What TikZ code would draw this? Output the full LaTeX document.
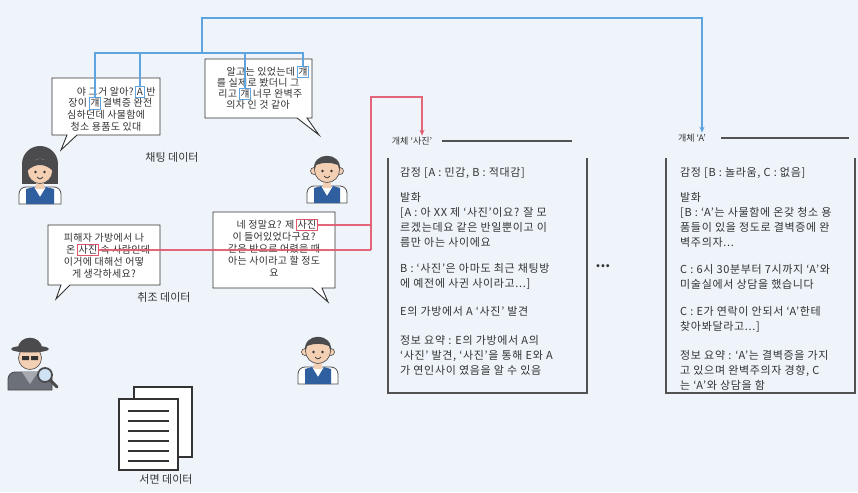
\documentclass[tikz,border=0pt]{standalone}
\usepackage{fontspec}
\setmainfont{Noto Sans CJK KR}
\usetikzlibrary{arrows.meta,positioning}
\definecolor{paper}{HTML}{EEF4FA}
\definecolor{ink}{HTML}{333333}
\definecolor{linkblue}{HTML}{5FA3DF}
\definecolor{linkred}{HTML}{E2566B}
\definecolor{skin}{HTML}{F3CFB3}
\definecolor{hair}{HTML}{4B4B4D}
\definecolor{vest}{HTML}{2F5F9F}
\definecolor{coat}{HTML}{6B7079}
\tikzset{bubble/.style={draw=ink,line width=.9pt,fill=white},
say/.style={inner sep=0pt,text=ink,font=\fontsize{10}{11}\selectfont\addfontfeature{LetterSpace=3}},
hlblue/.style={draw=linkblue,line width=.9pt,inner sep=1.2pt,text height=7.8pt,text depth=1pt,text=ink,font=\fontsize{10}{11}\selectfont\addfontfeature{LetterSpace=3}},
hlred/.style={hlblue,draw=linkred},
tag/.style={inner sep=0pt,text=ink,font=\fontsize{11}{12}\selectfont},
head/.style={inner sep=1pt,text=ink,font=\fontsize{9}{10}\selectfont},
info/.style={anchor=base west,inner sep=0pt,text=ink,font=\fontsize{11}{13}\selectfont\addfontfeature{LetterSpace=6}},
rule/.style={draw=ink!85,line width=1.1pt},
blink/.style={linkblue,line width=1.6pt},
rlink/.style={linkred,line width=1.6pt,opacity=.9},
tip/.style={-{Stealth[length=6pt,width=5pt]}}}

\begin{document}
\begin{tikzpicture}[x=1pt,y=-1pt]
\path[use as bounding box,fill=paper] (0,0) rectangle (858,492);

% chat bubbles
\draw[bubble] (52,78) -- (160,78) -- (160,135) -- (77,135) -- (61,150) -- (67,135) -- (52,135) -- cycle;
\node[hlblue] (hA1) at (140,92) {A};
\node[say,anchor=base east] (b1a) at ([xshift=-1.5pt]hA1.base west) {야 그거 알아?};
\node[say,anchor=base west] (b1b) at ([xshift=1.5pt]hA1.base east) {반};
\node[hlblue] (hA2) at (95,103.5) {걔};
\node[say,anchor=base east] (b1c) at ([xshift=-1.5pt]hA2.base west) {장이};
\node[say,anchor=base west] (b1d) at ([xshift=1.5pt]hA2.base east) {결벽증 완전};
\node[say,anchor=base] (b1e) at (106,118.5) {심하던데 사물함에};
\node[say,anchor=base] (b1f) at (106,130) {청소 용품도 있대};

\draw[bubble] (205,59) -- (312,59) -- (312,118) -- (307,118) -- (319,135) -- (297,118) -- (205,118) -- cycle;
\node[hlblue] (hA3) at (303,72) {걔};
\node[say,anchor=base east] (b2a) at ([xshift=-1.5pt]hA3.base west) {알고는 있었는데};
\node[say,anchor=base] (b2b) at (258,86.5) {를 실제로 봤더니 그};
\node[hlblue] (hA4) at (245,94) {걔};
\node[say,anchor=base east] (b2c) at ([xshift=-1.5pt]hA4.base west) {리고};
\node[say,anchor=base west] (b2d) at ([xshift=1.5pt]hA4.base east) {너무 완벽주};
\node[say,anchor=base] (b2e) at (258,108.5) {의자 인 것 같아};

\node[tag] (chat) at (172,157) {채팅 데이터};

% interview bubbles
\draw[bubble] (48,225) -- (160,225) -- (160,285) -- (70,285) -- (56,299) -- (61,285) -- (48,285) -- cycle;
\node[say,anchor=base] (b3a) at (104,241.5) {피해자 가방에서 나};
\node[hlred] (hS3) at (88,250) {사진};
\node[say,anchor=base east] (b3b) at ([xshift=-1.5pt]hS3.base west) {온};
\node[say,anchor=base west] (b3c) at ([xshift=1.5pt]hS3.base east) {속 사람인데};
\node[say,anchor=base] (b3d) at (104,265.5) {이거에 대해선 어떻};
\node[say,anchor=base] (b3e) at (104,277) {게 생각하세요?};

\draw[bubble] (213,212) -- (335,212) -- (335,288) -- (322,288) -- (328,302) -- (312,288) -- (213,288) -- cycle;
\node[hlred] (hS4) at (307,225) {사진};
\node[say,anchor=base east] (b4a) at ([xshift=-1.5pt]hS4.base west) {네 정말요? 제};
\node[say,anchor=base] (b4b) at (274,240.5) {이 들어있었다구요?};
\node[say,anchor=base] (b4c) at (274,252) {같은 반으로 어렸을 때};
\node[say,anchor=base] (b4d) at (274,264) {아는 사이라고 할 정도};
\node[say,anchor=base] (b4e) at (274,276) {요};

\node[tag] (quiz) at (164,297) {취조 데이터};

% girl (chat)
\begin{scope}[shift={(40,170)}]
\fill[hair] (0,-6) circle[radius=18];
\fill[hair] (-18,-6) rectangle (18,14);
\filldraw[fill=white,draw=hair,line width=.8pt] (-21,34) {[rounded corners=7pt] -- (-21,17) -- (21,17)} -- (21,34) -- cycle;
\fill[vest] (-14,34) -- (-14,19) -- (-6,17) -- (0,27) -- (6,17) -- (14,19) -- (14,34) -- cycle;
\fill[skin] (-4,11) rectangle (4,19);
\filldraw[fill=skin,draw=hair,line width=.6pt] (0,1) circle[radius=12.5];
\fill[hair] (-13,1) .. controls (-13,-15) and (13,-15) .. (13,1) .. controls (6,-6) and (-4,-8) .. (-13,1);
\fill[ink] (-4.5,2) circle[radius=1.3] (4.5,2) circle[radius=1.3];
\draw[ink,line width=.7pt] (-3,7) .. controls (0,9.5) .. (3,7);
\end{scope}

% boy (chat)
\begin{scope}[shift={(327,169)}]
\filldraw[fill=white,draw=hair,line width=.8pt] (-20,34) {[rounded corners=7pt] -- (-20,17) -- (20,17)} -- (20,34) -- cycle;
\fill[vest] (-13,34) -- (-13,19) -- (-6,17) -- (0,27) -- (6,17) -- (13,19) -- (13,34) -- cycle;
\fill[skin] (-4,11) rectangle (4,19);
\filldraw[fill=skin,draw=hair,line width=.6pt] (-13,2) circle[radius=3.5] (13,2) circle[radius=3.5];
\filldraw[fill=skin,draw=hair,line width=.6pt] (0,1) circle[radius=12.5];
\fill[hair] (-13,1) .. controls (-15,-18) and (15,-18) .. (13,1) -- (11,-4) .. controls (4,-7) and (-4,-7) .. (-11,-4) -- cycle;
\fill[ink] (-4.5,2) circle[radius=1.3] (4.5,2) circle[radius=1.3];
\draw[ink,line width=.7pt] (-3,7) .. controls (0,9.5) .. (3,7);
\end{scope}

% detective
\begin{scope}[shift={(30,356)}]
\filldraw[fill=coat,draw=hair,line width=.8pt] (-22,34) {[rounded corners=7pt] -- (-22,16) -- (22,16)} -- (22,34) -- cycle;
\fill[coat!60] (-8,16) -- (0,28) -- (8,16) -- cycle;
\filldraw[fill=skin,draw=hair,line width=.6pt] (0,2) circle[radius=11.5];
\fill[hair] (0,-7) ellipse[x radius=19,y radius=3.5];
\fill[hair] (-12,-7) .. controls (-12,-22) and (12,-22) .. (12,-7) -- cycle;
\fill[ink] (-8,0) rectangle (-1,4) (1,0) rectangle (8,4);
\draw[hair,line width=3pt,line cap=round] (20,24) -- (27,31);
\filldraw[fill=linkblue!30,draw=hair,line width=1.8pt] (15,19) circle[radius=7];
\end{scope}

% boy (interview)
\begin{scope}[shift={(318,350)}]
\filldraw[fill=white,draw=hair,line width=.8pt] (-20,34) {[rounded corners=7pt] -- (-20,17) -- (20,17)} -- (20,34) -- cycle;
\fill[vest] (-13,34) -- (-13,19) -- (-6,17) -- (0,27) -- (6,17) -- (13,19) -- (13,34) -- cycle;
\fill[skin] (-4,11) rectangle (4,19);
\filldraw[fill=skin,draw=hair,line width=.6pt] (-13,2) circle[radius=3.5] (13,2) circle[radius=3.5];
\filldraw[fill=skin,draw=hair,line width=.6pt] (0,1) circle[radius=12.5];
\fill[hair] (-13,1) .. controls (-15,-18) and (15,-18) .. (13,1) -- (11,-4) .. controls (4,-7) and (-4,-7) .. (-11,-4) -- cycle;
\fill[ink] (-4.5,2) circle[radius=1.3] (4.5,2) circle[radius=1.3];
\draw[ink,line width=.7pt] (-3,7) .. controls (0,9.5) .. (3,7);
\end{scope}

% written documents
\filldraw[fill=white,draw=ink,line width=1.8pt] (134,387) rectangle (192,457);
\filldraw[fill=white,draw=ink,line width=1.8pt] (119,399) rectangle (178,470);
\foreach \yy in {411,421,...,461}
  \draw[ink,line width=1.8pt] (128,\yy) -- (169,\yy);
\node[tag] (doc) at (166,479) {서면 데이터};

% entity panels
\node[head] (objS) at (412,141) {개체 `사진'};
\draw[rule] ([xshift=9pt]objS.east) -- ++(130,0);
\draw[rule] (388,158) -- (388,393) -- (587,393) -- (587,158);
\node[info] (s1) at (400,176) {감정 [A : 민감, B : 적대감]};
\node[info] (s2) at (400,201) {발화};
\node[info] (s3) at (400,216) {[A : 아 XX 제 `사진'이요? 잘 모};
\node[info] (s4) at (400,231) {르겠는데요 같은 반일뿐이고 이};
\node[info] (s5) at (400,246) {름만 아는 사이에요};
\node[info] (s6) at (400,272) {B : `사진'은 아마도 최근 채팅방};
\node[info] (s7) at (400,287) {에 예전에 사귄 사이라고...]};
\node[info] (s8) at (400,315) {E의 가방에서 A `사진' 발견};
\node[info] (s9) at (400,344) {정보 요약 : E의 가방에서 A의};
\node[info] (s10) at (400,359) {`사진' 발견, `사진'을 통해 E와 A};
\node[info] (s11) at (400,374) {가 연인사이 였음을 알 수 있음};

\node[text=ink,font=\fontsize{14}{14}\selectfont\bfseries] (more) at (603,266) {...};

\node[head] (objA) at (692,138) {개체 `A'};
\draw[rule] ([xshift=14pt]objA.east) -- ++(128,0);
\draw[rule] (666,158) -- (666,393) -- (855,393) -- (855,158);
\node[info] (a1) at (680,176) {감정 [B : 놀라움, C : 없음]};
\node[info] (a2) at (680,201) {발화};
\node[info] (a3) at (680,216) {[B : `A'는 사물함에 온갖 청소 용};
\node[info] (a4) at (680,231) {품들이 있을 정도로 결벽증에 완};
\node[info] (a5) at (680,246) {벽주의자...};
\node[info] (a6) at (680,273) {C : 6시 30분부터 7시까지 `A'와};
\node[info] (a7) at (680,288) {미술실에서 상담을 했습니다};
\node[info] (a8) at (680,315) {C : E가 연락이 안되서 `A'한테};
\node[info] (a9) at (680,330) {찾아봐달라고...]};
\node[info] (a10) at (680,359) {정보 요약 : `A'는 결벽증을 가지};
\node[info] (a11) at (680,374) {고 있으며 완벽주의자 경향, C};
\node[info] (a12) at (680,389) {는 `A'와 상담을 함};

% links from the mentions to the entities
\coordinate (bj) at (202,53);
\coordinate (bt) at (202,18);
\draw[blink] (hA2.north) |- (hA3.north |- bj) -- (hA3.north);
\draw[blink] (hA1.north) -- (hA1.north |- bj);
\draw[blink] (hA4.north) -- (hA4.north |- bj);
\draw[blink,tip] (bj) -- (bt) -| ([xshift=10pt]objA.north);

\coordinate (rj) at (371,97);
\draw[rlink] (hS3.east) -- (hS3.east -| rj);
\draw[rlink] (hS4.east) -- (hS4.east -| rj);
\draw[rlink,tip] (hS3.east -| rj) -- (rj) -| ([xshift=10pt]objS.north);
\end{tikzpicture}
\end{document}
